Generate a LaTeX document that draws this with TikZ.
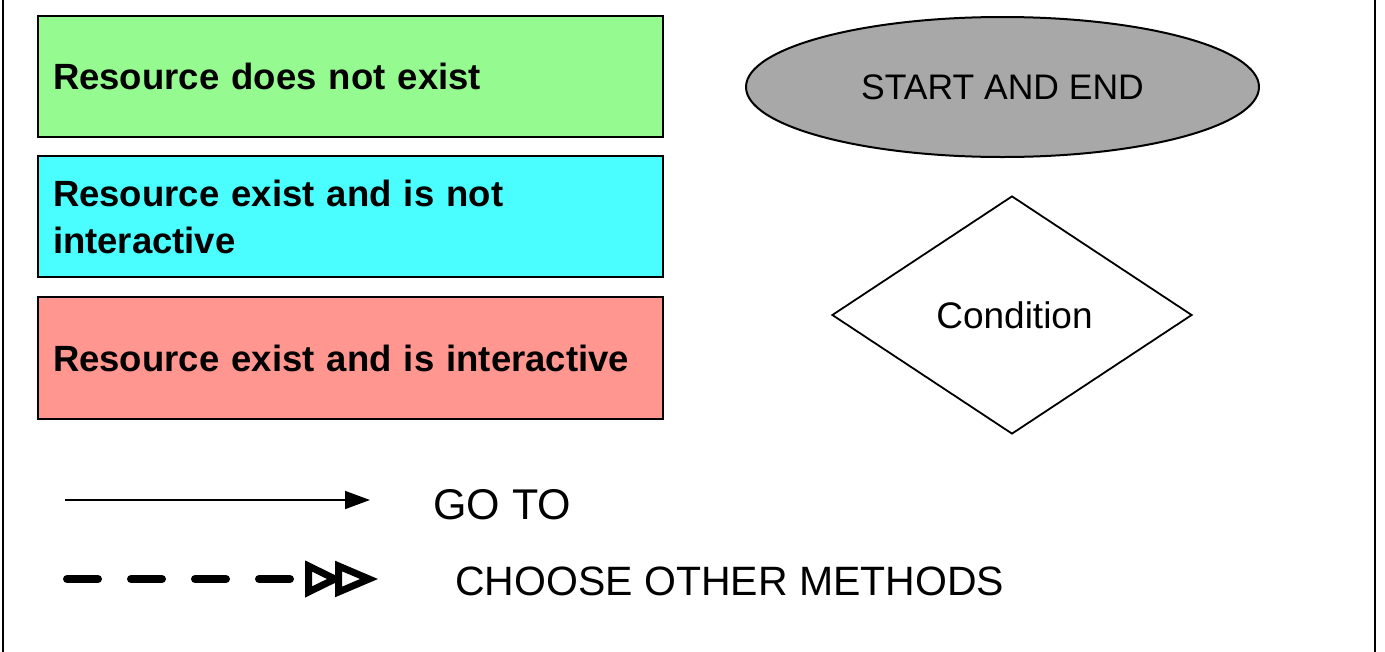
\documentclass[tikz,border=0pt]{standalone}
\usepackage{fontspec}
\setmainfont{Liberation Sans}
\usetikzlibrary{shapes.geometric,arrows.meta}
\definecolor{boxgreen}{HTML}{95FA90}
\definecolor{boxcyan}{HTML}{4AFEFF}
\definecolor{boxred}{HTML}{FF9690}
\definecolor{termgray}{HTML}{A8A8A8}
\begin{document}
\begin{tikzpicture}[x=1pt,y=-1pt,
  legendbox/.style={draw=black, line width=2pt, rectangle, anchor=west,
    minimum width=625pt, minimum height=121pt, text width=595pt,
    inner xsep=15pt, inner ysep=0pt, align=left,
    font=\fontsize{36.5}{47}\selectfont\bfseries},
  terminal/.style={draw=black, line width=2pt, ellipse, fill=termgray,
    minimum width=513pt, minimum height=140pt, inner sep=0pt,
    font=\fontsize{35.5}{40}\selectfont},
  decision/.style={draw=black, line width=1.8pt, diamond, fill=white,
    minimum width=360pt, minimum height=238pt, inner sep=0pt,
    font=\fontsize{37}{42}\selectfont},
  legendtext/.style={anchor=base west, inner sep=0pt},
  gotoarrow/.style={line width=1.5pt, -{Triangle[length=25pt,width=18pt]}},
  otherline/.style={line width=8pt, line cap=round, dash pattern=on 31pt off 33pt},
  opentip/.style={draw=black, fill=white, line width=7pt, miter limit=10}
]
\useasboundingbox (0,0) rectangle (1385,651);
\draw[line width=2.5pt] (3,-20) rectangle (1375,680);

\node[legendbox, fill=boxgreen] (nx) at (37,76.5) {Resource does not exist};
\node[legendbox, fill=boxcyan] (ni) at (37,216.5) {Resource exist and is not\\interactive};
\node[legendbox, fill=boxred, minimum height=122pt] (ei) at (37,358) {Resource exist and is interactive};

\node[terminal] (se) at (1002.5,87) {START AND END};
\node[decision] (cond) at (1012,315) {\hspace*{5pt}Condition};

\coordinate (g1) at (65,500);
\coordinate (g2) at (370,500);
\draw[gotoarrow] (g1) -- (g2);
\node[legendtext, font=\fontsize{43}{48}\selectfont] (gt) at (433,519) {GO TO};

\coordinate (c1) at (67,579);
\coordinate (c2) at (304,579);
\draw[otherline] (c1) -- (c2);
\draw[opentip] (308.5,566) -- (308.5,592) -- (335,579) -- cycle;
\draw[opentip] (338.5,566) -- (338.5,592) -- (369,579) -- cycle;
\node[legendtext, font=\fontsize{41}{46}\selectfont] (cm) at (455,595) {CHOOSE OTHER METHODS};
\end{tikzpicture}
\end{document}
